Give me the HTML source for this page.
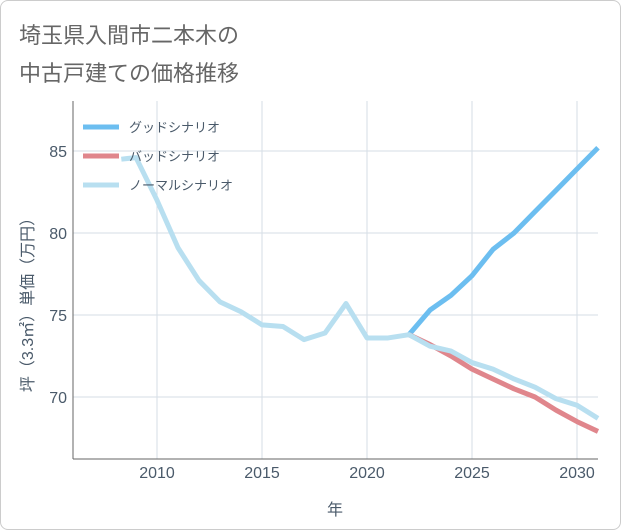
<!DOCTYPE html>
<html><head><meta charset="utf-8"><style>
body{margin:0;background:#fff;font-family:"Liberation Sans","Noto Sans CJK JP",sans-serif;}
#card{position:absolute;left:0;top:0;width:619px;height:528px;border:1px solid #ccc;border-radius:8px;background:#fff;}
</style></head><body>
<div id="card">
<svg id="svg" width="621" height="530" style="position:absolute;left:0;top:0">
<text x="18" y="42" font-size="22" fill="#666">埼玉県入間市二本木の</text>
<text x="18" y="80" font-size="22" fill="#666">中古戸建ての価格推移</text>
<rect x="72" y="100" width="525" height="358" fill="#fff" stroke="none"/>
<g id="grid"></g><g id="lines"></g>
<text x="334" y="514" font-size="16" fill="#4a5a6a" text-anchor="middle">年</text>
<text transform="translate(32,300) rotate(-90)" font-size="16" fill="#4a5a6a" text-anchor="middle">坪（3.3㎡）単価（万円）</text>
<g id="legend"></g>
</svg></div>
<script>
const years=[2008.3,2009,2010,2011,2012,2013,2014,2015,2016,2017,2018,2019,2020,2021,2022,2023,2024,2025,2026,2027,2028,2029,2030,2031];
const normal=[84.5,84.6,82.0,79.1,77.1,75.8,75.2,74.4,74.3,73.5,73.9,75.7,73.6,73.6,73.8,73.1,72.8,72.1,71.7,71.1,70.6,69.9,69.5,68.7];
const futureYears=[2022,2023,2024,2025,2026,2027,2028,2029,2030,2031];
const good=[73.8,75.3,76.2,77.4,79.0,80.0,81.3,82.6,83.9,85.2];
const bad=[73.8,73.2,72.5,71.7,71.1,70.5,70.0,69.2,68.5,67.9];
const xTicks=[2010,2015,2020,2025,2030];
const yTicks=[70,75,80,85];
const NS="http://www.w3.org/2000/svg";
const x=v=>72+(v-2006)*21;
const y=v=>150+(85-v)*16.4;
function mk(t,a,p){const e=document.createElementNS(NS,t);for(const k in a)e.setAttribute(k,a[k]);p.appendChild(e);return e;}
const grid=document.getElementById('grid');
xTicks.forEach(t=>{
 const l=mk('line',{x1:x(t),x2:x(t),y1:100,y2:458,stroke:'#d5dde6','stroke-width':1},grid);
 
 
 const tx=mk('text',{x:x(t),y:477,'font-size':16,fill:'#4a5a6a','text-anchor':'middle'},grid);tx.textContent=t;
 
 
});
yTicks.forEach(t=>{
 const l=mk('line',{x1:72,x2:597,y1:y(t),y2:y(t),stroke:'#d5dde6','stroke-width':1},grid);
 
 
 const tx=mk('text',{x:66,y:y(t)+6,'font-size':16,fill:'#4a5a6a','text-anchor':'end'},grid);tx.textContent=t;
 
 
});
const ax=mk('line',{x1:72,x2:72,y1:100,y2:458,stroke:'#666','stroke-width':1},grid);


const ax2=mk('line',{x1:72,x2:597,y1:458,y2:458,stroke:'#666','stroke-width':1},grid);


const lines=document.getElementById('lines');
function series(xs,vs,c,name){
 const p=mk('polyline',{points:xs.map((t,i)=>x(t)+','+y(vs[i])).join(' '),fill:'none',stroke:c,'stroke-width':5,'stroke-linejoin':'round'},lines);
 
 
}
const cs={good:'#6cbef0',bad:'#e0868c',normal:'#b8dff0'};
series(futureYears,good,cs.good,'good-scenario-line');
series(futureYears,bad,cs.bad,'bad-scenario-line');
series(years,normal,cs.normal,'normal-scenario-line');
const lg=document.getElementById('legend');
[['グッドシナリオ',cs.good],['バッドシナリオ',cs.bad],['ノーマルシナリオ',cs.normal]].forEach((d,i)=>{
 const g=mk('g',{},lg);
 
 
 mk('line',{x1:82,x2:118,y1:126+i*29,y2:126+i*29,stroke:d[1],'stroke-width':5},g);
 const t=mk('text',{x:128,y:131+i*29,'font-size':13,fill:'#4a5a6a'},g);t.textContent=d[0];
});
</script></body></html>
